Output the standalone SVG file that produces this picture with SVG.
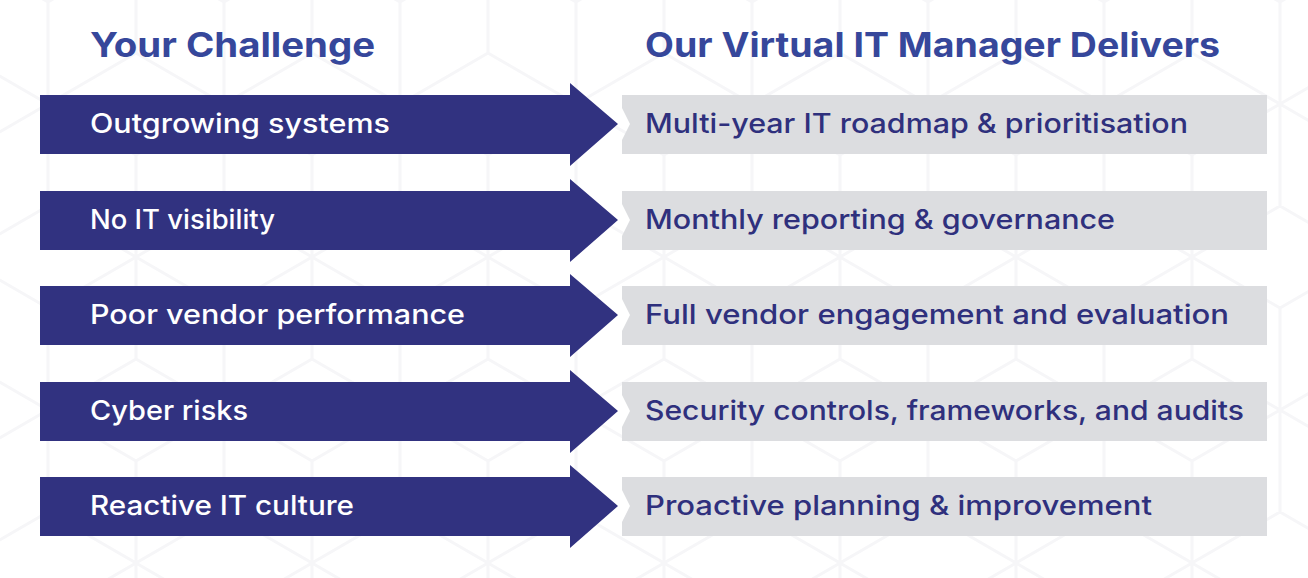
<svg xmlns="http://www.w3.org/2000/svg" width="1308" height="578" viewBox="0 0 1308 578">
<defs>
<style>
.bg{fill:#ffffff}
.arrow{fill:#313280}
.box{fill:#dcdde0}
.h{font-family:"Inter","Liberation Sans",sans-serif;font-weight:700;font-size:34px;fill:#36479b}
.lt{font-family:"Inter","Liberation Sans",sans-serif;font-weight:500;font-size:27px;fill:#ffffff}
.rt{font-family:"Inter","Liberation Sans",sans-serif;font-weight:500;font-size:27px;fill:#2f307d}
.hex{fill:none;stroke:#f6f6f8;stroke-width:3}
</style>
<pattern id="cubes" patternUnits="userSpaceOnUse" x="-40" y="-100" width="176" height="306">
<path class="hex" d="M88 0L176 51L176 153L88 204L0 153L0 51Z M88 102L0 51 M88 102L176 51 M88 102L88 204 M88 204L88 306 M0 255L88 204L176 255 M0 255L0 306 M176 255L176 306 M0 0L0 51 M176 0L176 51"/>
</pattern>
</defs>
<rect class="bg" x="0" y="0" width="1308" height="578"/>
<rect x="0" y="0" width="1308" height="578" fill="url(#cubes)"/>

<g id="headers">
<text class="h" x="90" y="57" textLength="285" lengthAdjust="spacingAndGlyphs">Your Challenge</text>
<text class="h" x="645" y="57" textLength="575" lengthAdjust="spacingAndGlyphs">Our Virtual IT Manager Delivers</text>
</g>

<g id="connectors"></g>

<g id="challenge-1"><polygon class="arrow" points="40,95 570,95 570,83 618,124 570,166 570,154 40,154"/><text class="lt" x="90" y="133" textLength="300" lengthAdjust="spacingAndGlyphs">Outgrowing systems</text></g>
<g id="deliver-1"><polygon class="box" points="622,95 1267,95 1267,154 622,154 622,140 630,124 622,108"/><text class="rt" x="645" y="133" textLength="543" lengthAdjust="spacingAndGlyphs">Multi-year IT roadmap &amp; prioritisation</text></g>

<g id="challenge-2"><polygon class="arrow" points="40,191 570,191 570,179 618,220 570,262 570,250 40,250"/><text class="lt" x="90" y="229" textLength="185" lengthAdjust="spacingAndGlyphs">No IT visibility</text></g>
<g id="deliver-2"><polygon class="box" points="622,191 1267,191 1267,250 622,250 622,236 630,220 622,204"/><text class="rt" x="645" y="229" textLength="470" lengthAdjust="spacingAndGlyphs">Monthly reporting &amp; governance</text></g>

<g id="challenge-3"><polygon class="arrow" points="40,286 570,286 570,274 618,315 570,357 570,345 40,345"/><text class="lt" x="90" y="324" textLength="375" lengthAdjust="spacingAndGlyphs">Poor vendor performance</text></g>
<g id="deliver-3"><polygon class="box" points="622,286 1267,286 1267,345 622,345 622,331 630,315 622,299"/><text class="rt" x="645" y="324" textLength="584" lengthAdjust="spacingAndGlyphs">Full vendor engagement and evaluation</text></g>

<g id="challenge-4"><polygon class="arrow" points="40,382 570,382 570,370 618,411 570,453 570,441 40,441"/><text class="lt" x="90" y="420" textLength="158" lengthAdjust="spacingAndGlyphs">Cyber risks</text></g>
<g id="deliver-4"><polygon class="box" points="622,382 1267,382 1267,441 622,441 622,427 630,411 622,395"/><text class="rt" x="645" y="420" textLength="599" lengthAdjust="spacingAndGlyphs">Security controls, frameworks, and audits</text></g>

<g id="challenge-5"><polygon class="arrow" points="40,477 570,477 570,465 618,506 570,548 570,536 40,536"/><text class="lt" x="90" y="515" textLength="264" lengthAdjust="spacingAndGlyphs">Reactive IT culture</text></g>
<g id="deliver-5"><polygon class="box" points="622,477 1267,477 1267,536 622,536 622,522 630,506 622,490"/><text class="rt" x="645" y="515" textLength="507" lengthAdjust="spacingAndGlyphs">Proactive planning &amp; improvement</text></g>
</svg>
